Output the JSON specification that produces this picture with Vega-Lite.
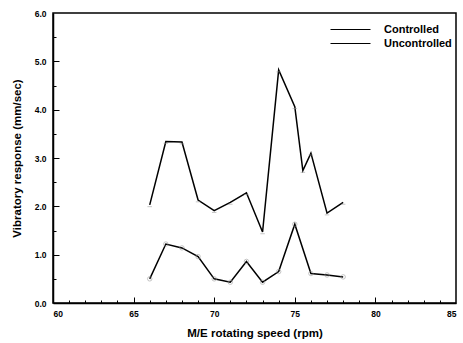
{
  "$schema": "https://vega.github.io/schema/vega-lite/v6.json",
  "autosize": "none",
  "width": 403,
  "height": 290,
  "padding": {"left": 53, "top": 13, "right": 5, "bottom": 40},
  "background": "white",
  "config": {
    "view": {"stroke": "black", "strokeWidth": 1.5},
    "font": "Liberation Sans"
  },
  "data": {
    "values": [
      {"speed": 66, "response": 2.03, "series": "Uncontrolled"},
      {"speed": 67, "response": 3.34, "series": "Uncontrolled"},
      {"speed": 68, "response": 3.33, "series": "Uncontrolled"},
      {"speed": 69, "response": 2.13, "series": "Uncontrolled"},
      {"speed": 70, "response": 1.91, "series": "Uncontrolled"},
      {"speed": 71, "response": 2.08, "series": "Uncontrolled"},
      {"speed": 72, "response": 2.28, "series": "Uncontrolled"},
      {"speed": 73, "response": 1.47, "series": "Uncontrolled"},
      {"speed": 74, "response": 4.82, "series": "Uncontrolled"},
      {"speed": 75, "response": 4.06, "series": "Uncontrolled"},
      {"speed": 75.5, "response": 2.74, "series": "Uncontrolled"},
      {"speed": 76, "response": 3.1, "series": "Uncontrolled"},
      {"speed": 77, "response": 1.86, "series": "Uncontrolled"},
      {"speed": 78, "response": 2.08, "series": "Uncontrolled"},
      {"speed": 66, "response": 0.5, "series": "Controlled"},
      {"speed": 67, "response": 1.22, "series": "Controlled"},
      {"speed": 68, "response": 1.14, "series": "Controlled"},
      {"speed": 69, "response": 0.96, "series": "Controlled"},
      {"speed": 70, "response": 0.5, "series": "Controlled"},
      {"speed": 71, "response": 0.43, "series": "Controlled"},
      {"speed": 72, "response": 0.86, "series": "Controlled"},
      {"speed": 73, "response": 0.43, "series": "Controlled"},
      {"speed": 74, "response": 0.65, "series": "Controlled"},
      {"speed": 75, "response": 1.63, "series": "Controlled"},
      {"speed": 76, "response": 0.61, "series": "Controlled"},
      {"speed": 77, "response": 0.58, "series": "Controlled"},
      {"speed": 78, "response": 0.54, "series": "Controlled"}
    ]
  },
  "resolve": {"axis": {"x": "independent", "y": "independent"}},
  "layer": [
    {
      "mark": {"type": "line", "strokeWidth": 1.5},
      "encoding": {
        "x": {
          "field": "speed", "type": "quantitative",
          "scale": {"domain": [60, 85], "nice": false, "zero": false},
          "axis": {
            "title": "M/E rotating speed (rpm)",
            "orient": "bottom",
            "values": [60, 65, 70, 75, 80, 85],
            "grid": false,
            "ticks": false,
            "domainColor": "black", "domainWidth": 1.5,
            "labelPadding": 6,
            "labelFont": "Liberation Sans", "labelFontWeight": "bold", "labelFontSize": 8.5, "labelColor": "black",
            "titleFont": "Liberation Sans", "titleFontWeight": "bold", "titleFontSize": 11.5, "titleColor": "black",
            "titlePadding": 10
          }
        },
        "y": {
          "field": "response", "type": "quantitative",
          "scale": {"domain": [0, 6], "nice": false},
          "axis": {
            "title": "Vibratory response (mm/sec)",
            "orient": "left",
            "values": [0, 1, 2, 3, 4, 5, 6],
            "format": ".1f",
            "grid": false,
            "ticks": false,
            "domainColor": "black", "domainWidth": 1.5,
            "labelPadding": 7,
            "labelFont": "Liberation Sans", "labelFontWeight": "bold", "labelFontSize": 8.5, "labelColor": "black",
            "titleFont": "Liberation Sans", "titleFontWeight": "bold", "titleFontSize": 11.5, "titleColor": "black",
            "titlePadding": 12
          }
        },
        "color": {
          "field": "series", "type": "nominal",
          "scale": {"domain": ["Controlled", "Uncontrolled"], "range": ["black", "black"]},
          "legend": {
            "title": null,
            "orient": "none",
            "legendX": 292,
            "legendY": 11,
            "symbolType": "M-4,0H4",
            "symbolSize": 100,
            "symbolStrokeWidth": 1,
            "labelOffset": 28,
            "labelFont": "Liberation Sans",
            "labelFontWeight": "bold",
            "labelFontSize": 11,
            "labelColor": "black",
            "rowPadding": 2
          }
        }
      }
    },
    {
      "transform": [{"filter": "datum.series === 'Controlled'"}],
      "mark": {"type": "point", "shape": "circle", "filled": false, "size": 20, "strokeWidth": 0.8, "color": "#999999"},
      "encoding": {
        "x": {
          "field": "speed", "type": "quantitative",
          "axis": {
            "orient": "top", "offset": -290, "title": null, "labels": false, "domain": false, "grid": false,
            "values": [61,62,63,64,66,67,68,69,71,72,73,74,76,77,78,79,81,82,83,84],
            "ticks": true, "tickColor": "black", "tickWidth": 1, "tickSize": 3
          }
        },
        "y": {
          "field": "response", "type": "quantitative",
          "axis": {
            "orient": "right", "offset": -403, "title": null, "labels": false, "domain": false, "grid": false,
            "values": [0.5, 1.5, 2.5, 3.5, 4.5, 5.5],
            "ticks": true, "tickColor": "black", "tickWidth": 1, "tickSize": 3
          }
        }
      }
    },
    {
      "transform": [{"filter": "datum.series === 'Uncontrolled'"}],
      "mark": {"type": "point", "shape": "M -1 0.8 L 1 0.8", "filled": false, "size": 20, "strokeWidth": 0.8, "color": "#999999"},
      "encoding": {
        "x": {
          "field": "speed", "type": "quantitative",
          "axis": {
            "orient": "top", "offset": -290, "title": null, "labels": false, "domain": false, "grid": false,
            "values": [65, 70, 75, 80],
            "ticks": true, "tickColor": "black", "tickWidth": 1, "tickSize": 6
          }
        },
        "y": {
          "field": "response", "type": "quantitative",
          "axis": {
            "orient": "right", "offset": -403, "title": null, "labels": false, "domain": false, "grid": false,
            "values": [1, 2, 3, 4, 5],
            "ticks": true, "tickColor": "black", "tickWidth": 1, "tickSize": 6
          }
        }
      }
    }
  ]
}
